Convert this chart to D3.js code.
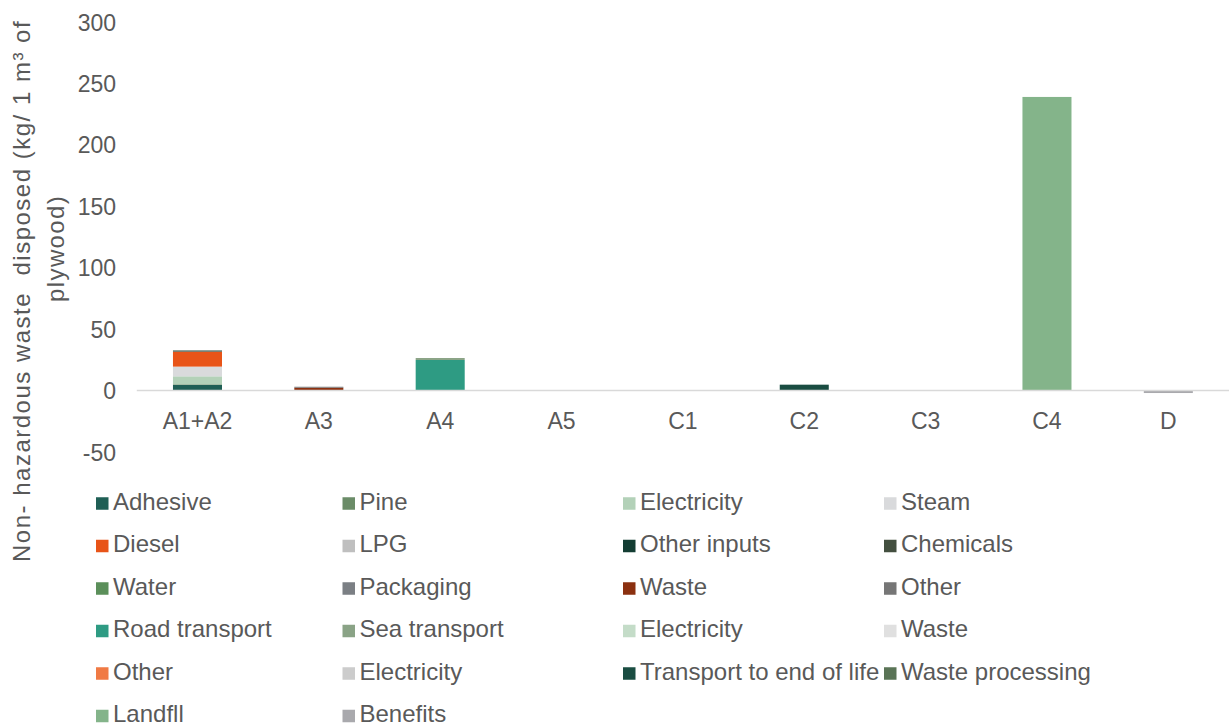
<!DOCTYPE html>
<html>
<head>
<meta charset="utf-8">
<script src="https://cdn.jsdelivr.net/npm/d3@7"></script>
<style>
  html, body { margin: 0; padding: 0; background: #ffffff; }
  svg { display: block; font-family: "Liberation Sans", Arial, sans-serif; }
</style>
</head>
<body>
<svg id="chart" width="1232" height="727"></svg>
<script>
// ---------- data ----------
const categories = ["A1+A2", "A3", "A4", "A5", "C1", "C2", "C3", "C4", "D"];
const yTicks = [-50, 0, 50, 100, 150, 200, 250, 300];
const seriesNames = [
  "Adhesive", "Pine", "Electricity", "Steam",
  "Diesel", "LPG", "Other inputs", "Chemicals",
  "Water", "Packaging", "Waste", "Other",
  "Road transport", "Sea transport", "Electricity", "Waste",
  "Other", "Electricity", "Transport to end of life", "Waste processing",
  "Landfll", "Benefits"
];
const seriesStage = [
  "A1+A2", "A1+A2", "A1+A2", "A1+A2",
  "A1+A2", "A1+A2", "A1+A2", "A3",
  "A3", "A3", "A3", "A3",
  "A4", "A4", "A5", "A5",
  "A5", "C1", "C2", "C3",
  "C4", "D"
];
const seriesValues = [
  4.6, 0.5, 6.5, 7.9,
  12.2, 0.1, 0.8, 0.05,
  0.05, 0.1, 2.1, 0.8,
  24.9, 1.6, 0.05, 0.1,
  0.05, 0.05, 4.8, 0.1,
  239.0, -2.0
];
const seriesColors = [
  "#1f5f55", "#6b8c68", "#b3d1b8", "#d9dadc",
  "#e85418", "#bfbfbf", "#133d33", "#434f3f",
  "#5b8f5a", "#7b7f84", "#8b3010", "#767676",
  "#2e9b83", "#8aa386", "#c4dcc8", "#e0e0e0",
  "#f07a44", "#cccccc", "#1a4d42", "#5a7456",
  "#84b48a", "#a9a9ad"
];
const yTitleLine1 = "Non- hazardous waste  disposed (kg/ 1 m³ of";
const yTitleLine2 = "plywood)";

// ---------- build table ----------
const keys = seriesNames.map((n, i) => "s" + i);
const table = categories.map(c => {
  const row = { cat: c };
  keys.forEach((k, i) => { row[k] = seriesStage[i] === c ? seriesValues[i] : 0; });
  return row;
});
const stacked = d3.stack().keys(keys).offset(d3.stackOffsetDiverging)(table);

// ---------- layout ----------
const svg = d3.select("#chart");
const textColor = "#595959";
const fontSize = 23;
const legendFont = 24;

const x = d3.scaleBand().domain(categories).range([136.8, 1229])
  .paddingInner(0.596).paddingOuter(0.298);
const y = d3.scaleLinear().domain([-50, 300]).range([452, 22]);

// bars
const g = svg.append("g");
stacked.forEach((layer, i) => {
  g.append("g").attr("fill", seriesColors[i])
    .selectAll("rect").data(layer).join("rect")
    .attr("x", d => x(d.data.cat))
    .attr("width", x.bandwidth())
    .attr("y", d => y(Math.max(d[0], d[1])))
    .attr("height", d => Math.abs(y(d[0]) - y(d[1])));
});

// zero line
svg.append("line")
  .attr("x1", 136.8).attr("x2", 1229)
  .attr("y1", y(0)).attr("y2", y(0))
  .attr("stroke", "#d9d9d9").attr("stroke-width", 1.6);

// y axis (labels only)
const yAxis = d3.axisLeft(y).tickValues(yTicks).tickFormat(d => String(d))
  .tickSize(0).tickPadding(0);
const yg = svg.append("g").attr("transform", "translate(116,0)").call(yAxis);
yg.select(".domain").remove();
yg.selectAll("text")
  .attr("fill", textColor).attr("font-size", fontSize)
  .attr("font-family", '"Liberation Sans", Arial, sans-serif')
  .attr("dy", "0.35em").attr("x", 0);

// x axis labels
const xAxis = d3.axisBottom(x).tickSize(0).tickPadding(0);
const xg = svg.append("g").attr("transform", "translate(0,413)").call(xAxis);
xg.select(".domain").remove();
xg.selectAll("text")
  .attr("fill", textColor).attr("font-size", fontSize)
  .attr("font-family", '"Liberation Sans", Arial, sans-serif')
  .attr("dy", "0.71em").attr("y", 0);

// y title
svg.append("text")
  .attr("transform", "translate(30,562) rotate(-90)")
  .attr("text-anchor", "start")
  .style("white-space", "pre")
  .attr("letter-spacing", 1.5)
  .attr("fill", textColor).attr("font-size", 24)
  .text(yTitleLine1);
svg.append("text")
  .attr("transform", "translate(64,302) rotate(-90)")
  .attr("text-anchor", "start")
  .attr("letter-spacing", 1.4)
  .attr("fill", textColor).attr("font-size", 24)
  .text(yTitleLine2);

// legend
const legendCols = [96, 342.5, 623, 884];
const legendRow0 = 503.5, legendRowStep = 42.5, marker = 12.5;
const lg = svg.append("g");
seriesNames.forEach((name, i) => {
  const col = i % 4, row = Math.floor(i / 4);
  const lx = legendCols[col], ly = legendRow0 + row * legendRowStep;
  lg.append("rect")
    .attr("x", lx).attr("y", ly - marker / 2)
    .attr("width", marker).attr("height", marker)
    .attr("fill", seriesColors[i]);
  lg.append("text")
    .attr("x", lx + marker + 4.5).attr("y", ly + 6)
    .attr("fill", textColor).attr("font-size", legendFont)
    .text(name);
});
</script>
</body>
</html>
